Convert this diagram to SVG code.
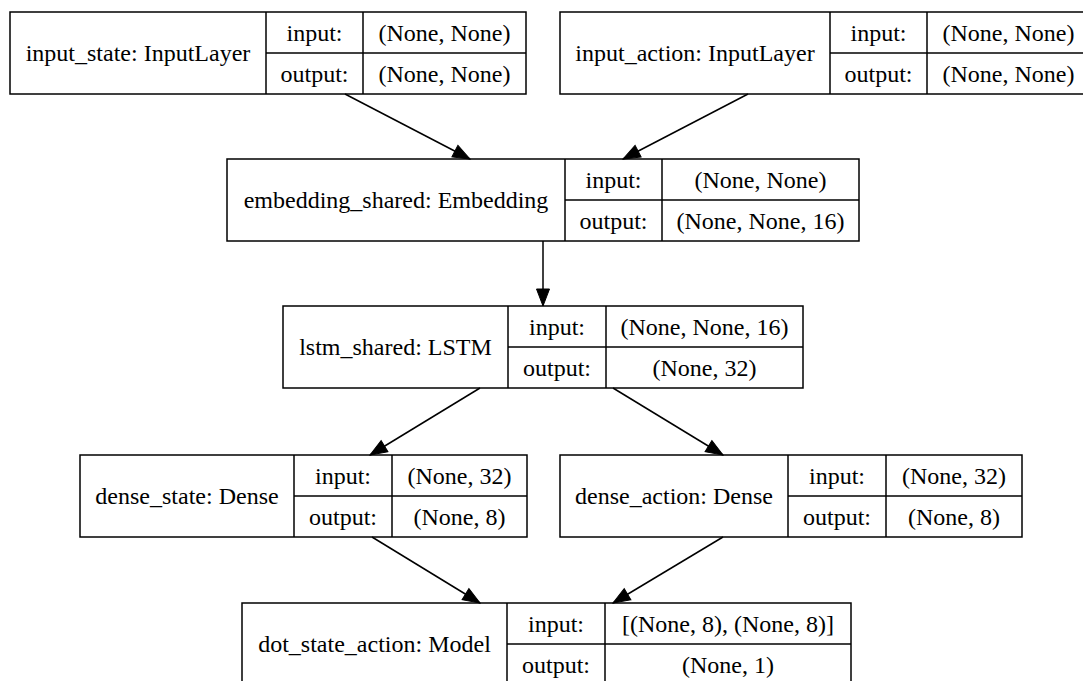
<svg xmlns="http://www.w3.org/2000/svg" width="1083" height="681" viewBox="0 0 1083 681">
<style>
rect.n, line.d { fill: none; stroke: #000; stroke-width: 1.5; }
text { font-family: "Liberation Serif", "Times New Roman", serif; font-size: 24px; fill: #000; text-anchor: middle; }
.e { stroke: #000; stroke-width: 1.5; fill: none; marker-end: url(#ah); }
</style>
<defs>
<marker id="ah" markerUnits="userSpaceOnUse" markerWidth="20" markerHeight="16" refX="18" refY="7" orient="auto" viewBox="0 0 20 14">
<path d="M1,0.5 L18,7 L1,13.5 Z" fill="#000" stroke="#000" stroke-width="1"/>
</marker>
</defs>
<rect x="0" y="0" width="1083" height="681" style="fill:#fff;stroke:none"/>

<g id="connectors">
<line class="e" x1="345" y1="94" x2="470" y2="159"/>
<line class="e" x1="748" y1="94" x2="623" y2="159"/>
<line class="e" x1="543" y1="241" x2="543" y2="306"/>
<line class="e" x1="480" y1="388" x2="370" y2="455"/>
<line class="e" x1="613" y1="388" x2="723" y2="455"/>
<line class="e" x1="372" y1="537" x2="480" y2="603"/>
<line class="e" x1="723" y1="537" x2="613" y2="603"/>
</g>

<g id="input_state">
<rect class="n" x="10" y="12" width="516" height="82"/>
<line class="d" x1="266" y1="12" x2="266" y2="94"/>
<line class="d" x1="363" y1="12" x2="363" y2="94"/>
<line class="d" x1="266" y1="53" x2="526" y2="53"/>
<text x="138" y="61">input_state: InputLayer</text>
<text x="314.5" y="40.5">input:</text>
<text x="314.5" y="81.5">output:</text>
<text x="444.5" y="40.5">(None, None)</text>
<text x="444.5" y="81.5">(None, None)</text>
</g>

<g id="input_action">
<rect class="n" x="560" y="12" width="530" height="82"/>
<line class="d" x1="830" y1="12" x2="830" y2="94"/>
<line class="d" x1="927" y1="12" x2="927" y2="94"/>
<line class="d" x1="830" y1="53" x2="1090" y2="53"/>
<text x="695" y="61">input_action: InputLayer</text>
<text x="878.5" y="40.5">input:</text>
<text x="878.5" y="81.5">output:</text>
<text x="1008.5" y="40.5">(None, None)</text>
<text x="1008.5" y="81.5">(None, None)</text>
</g>

<g id="embedding_shared">
<rect class="n" x="227" y="159" width="632" height="82"/>
<line class="d" x1="565" y1="159" x2="565" y2="241"/>
<line class="d" x1="662" y1="159" x2="662" y2="241"/>
<line class="d" x1="565" y1="200" x2="859" y2="200"/>
<text x="396" y="208">embedding_shared: Embedding</text>
<text x="613.5" y="187.5">input:</text>
<text x="613.5" y="228.5">output:</text>
<text x="760.5" y="187.5">(None, None)</text>
<text x="760.5" y="228.5">(None, None, 16)</text>
</g>

<g id="lstm_shared">
<rect class="n" x="283" y="306" width="520" height="82"/>
<line class="d" x1="508" y1="306" x2="508" y2="388"/>
<line class="d" x1="606" y1="306" x2="606" y2="388"/>
<line class="d" x1="508" y1="347" x2="803" y2="347"/>
<text x="395.5" y="355">lstm_shared: LSTM</text>
<text x="557" y="334.5">input:</text>
<text x="557" y="375.5">output:</text>
<text x="704.5" y="334.5">(None, None, 16)</text>
<text x="704.5" y="375.5">(None, 32)</text>
</g>

<g id="dense_state">
<rect class="n" x="80" y="455" width="447" height="82"/>
<line class="d" x1="294" y1="455" x2="294" y2="537"/>
<line class="d" x1="392" y1="455" x2="392" y2="537"/>
<line class="d" x1="294" y1="496" x2="527" y2="496"/>
<text x="187" y="504">dense_state: Dense</text>
<text x="343" y="483.5">input:</text>
<text x="343" y="524.5">output:</text>
<text x="459.5" y="483.5">(None, 32)</text>
<text x="459.5" y="524.5">(None, 8)</text>
</g>

<g id="dense_action">
<rect class="n" x="560" y="455" width="462" height="82"/>
<line class="d" x1="788" y1="455" x2="788" y2="537"/>
<line class="d" x1="886" y1="455" x2="886" y2="537"/>
<line class="d" x1="788" y1="496" x2="1022" y2="496"/>
<text x="674" y="504">dense_action: Dense</text>
<text x="837" y="483.5">input:</text>
<text x="837" y="524.5">output:</text>
<text x="954" y="483.5">(None, 32)</text>
<text x="954" y="524.5">(None, 8)</text>
</g>

<g id="dot_state_action">
<rect class="n" x="242" y="603" width="609" height="82"/>
<line class="d" x1="507" y1="603" x2="507" y2="685"/>
<line class="d" x1="605" y1="603" x2="605" y2="685"/>
<line class="d" x1="507" y1="644" x2="851" y2="644"/>
<text x="374.5" y="652">dot_state_action: Model</text>
<text x="556" y="631.5">input:</text>
<text x="556" y="672.5">output:</text>
<text x="728" y="631.5">[(None, 8), (None, 8)]</text>
<text x="728" y="672.5">(None, 1)</text>
</g>
</svg>
